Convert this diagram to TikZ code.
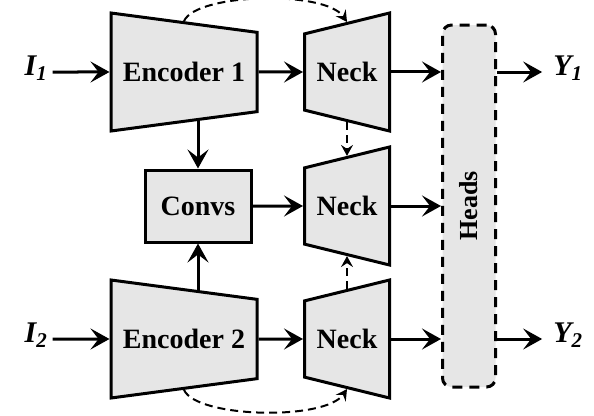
\documentclass[tikz,border=0pt]{standalone}
\usepackage{fontspec}
\setmainfont{Liberation Serif}
\usepackage{xcolor}
\usepackage{tikz}
\usetikzlibrary{arrows.meta,shapes.geometric}
\definecolor{boxgray}{RGB}{230,230,230}

\begin{document}
\begin{tikzpicture}[x=1pt,y=-1pt,
  blk/.style={draw,line width=3pt,fill=boxgray,inner sep=0pt,font=\bfseries\fontsize{28}{30}\selectfont},
  enc/.style={blk,trapezium,trapezium stretches body=true,shape border rotate=270,trapezium left angle=81,trapezium right angle=81,minimum width=118pt,minimum height=146pt},
  neck/.style={blk,trapezium,trapezium stretches body=true,shape border rotate=90,trapezium left angle=71,trapezium right angle=71,minimum width=118pt,minimum height=85pt},
  arr/.style={line width=3pt,-{Stealth[length=19pt,width=21pt,inset=8pt]}},
  dasharr/.style={line width=2pt,dash pattern=on 8pt off 5pt,-{Stealth[length=11pt,width=12pt,inset=4pt]}},
  lbl/.style={inner sep=5pt,font=\bfseries\itshape\fontsize{30}{32}\selectfont}]
\useasboundingbox (0,0) rectangle (594,415);
\node[enc] (enc1) at (184,72) {Encoder 1};
\node[enc] (enc2) at (184,339) {Encoder 2};
\node[blk,minimum width=106pt,minimum height=72pt] (convs) at (198,206) {Convs};
\node[neck] (nk1) at (347,72) {Neck};
\node[neck] (nk2) at (347,206) {Neck};
\node[neck] (nk3) at (347,339) {Neck};
\node[blk,dash pattern=on 10pt off 7pt,rounded corners=9pt,minimum width=53pt,minimum height=362pt,font=\bfseries\fontsize{26}{28}\selectfont] (heads) at (469,206) {\rotatebox{90}{Heads}};
\node[lbl] (I1) at (36,68) {I\textsubscript{1}};
\node[lbl] (I2) at (36,335) {I\textsubscript{2}};
\node[lbl] (Y1) at (568,68) {Y\textsubscript{1}};
\node[lbl] (Y2) at (568,335) {Y\textsubscript{2}};
\draw[arr] (I1.east |- enc1) -- (enc1.180);
\draw[arr] (I2.east |- enc2) -- (enc2.180);
\draw[arr] (enc1.0) -- (nk1.180);
\draw[arr] (enc2.0) -- (nk3.180);
\draw[arr] (convs.north |- enc1.-73) -- (convs.north);
\draw[arr] (convs.south |- enc2.73) -- (convs.south);
\draw[arr] (convs.east) -- (nk2.180);
\draw[arr] (nk1.0) -- (nk1.0 -| heads.west);
\draw[arr] (nk2.0) -- (nk2.0 -| heads.west);
\draw[arr] (nk3.0) -- (nk3.0 -| heads.west);
\draw[arr,shorten >=6pt] (heads.east |- nk1) -- (Y1.west |- nk1);
\draw[arr,shorten >=6pt] (heads.east |- nk3) -- (Y2.west |- nk3);
\draw[dasharr] (nk1.-90) -- (nk2.90);
\draw[dasharr] (nk3.90) -- (nk2.-90);
\draw[dasharr] (enc1.90) .. controls +(12,-28) and +(-22,-32) .. (nk1.90);
\draw[dasharr] (enc2.-90) .. controls +(12,28) and +(-22,32) .. (nk3.-90);
\end{tikzpicture}
\end{document}
